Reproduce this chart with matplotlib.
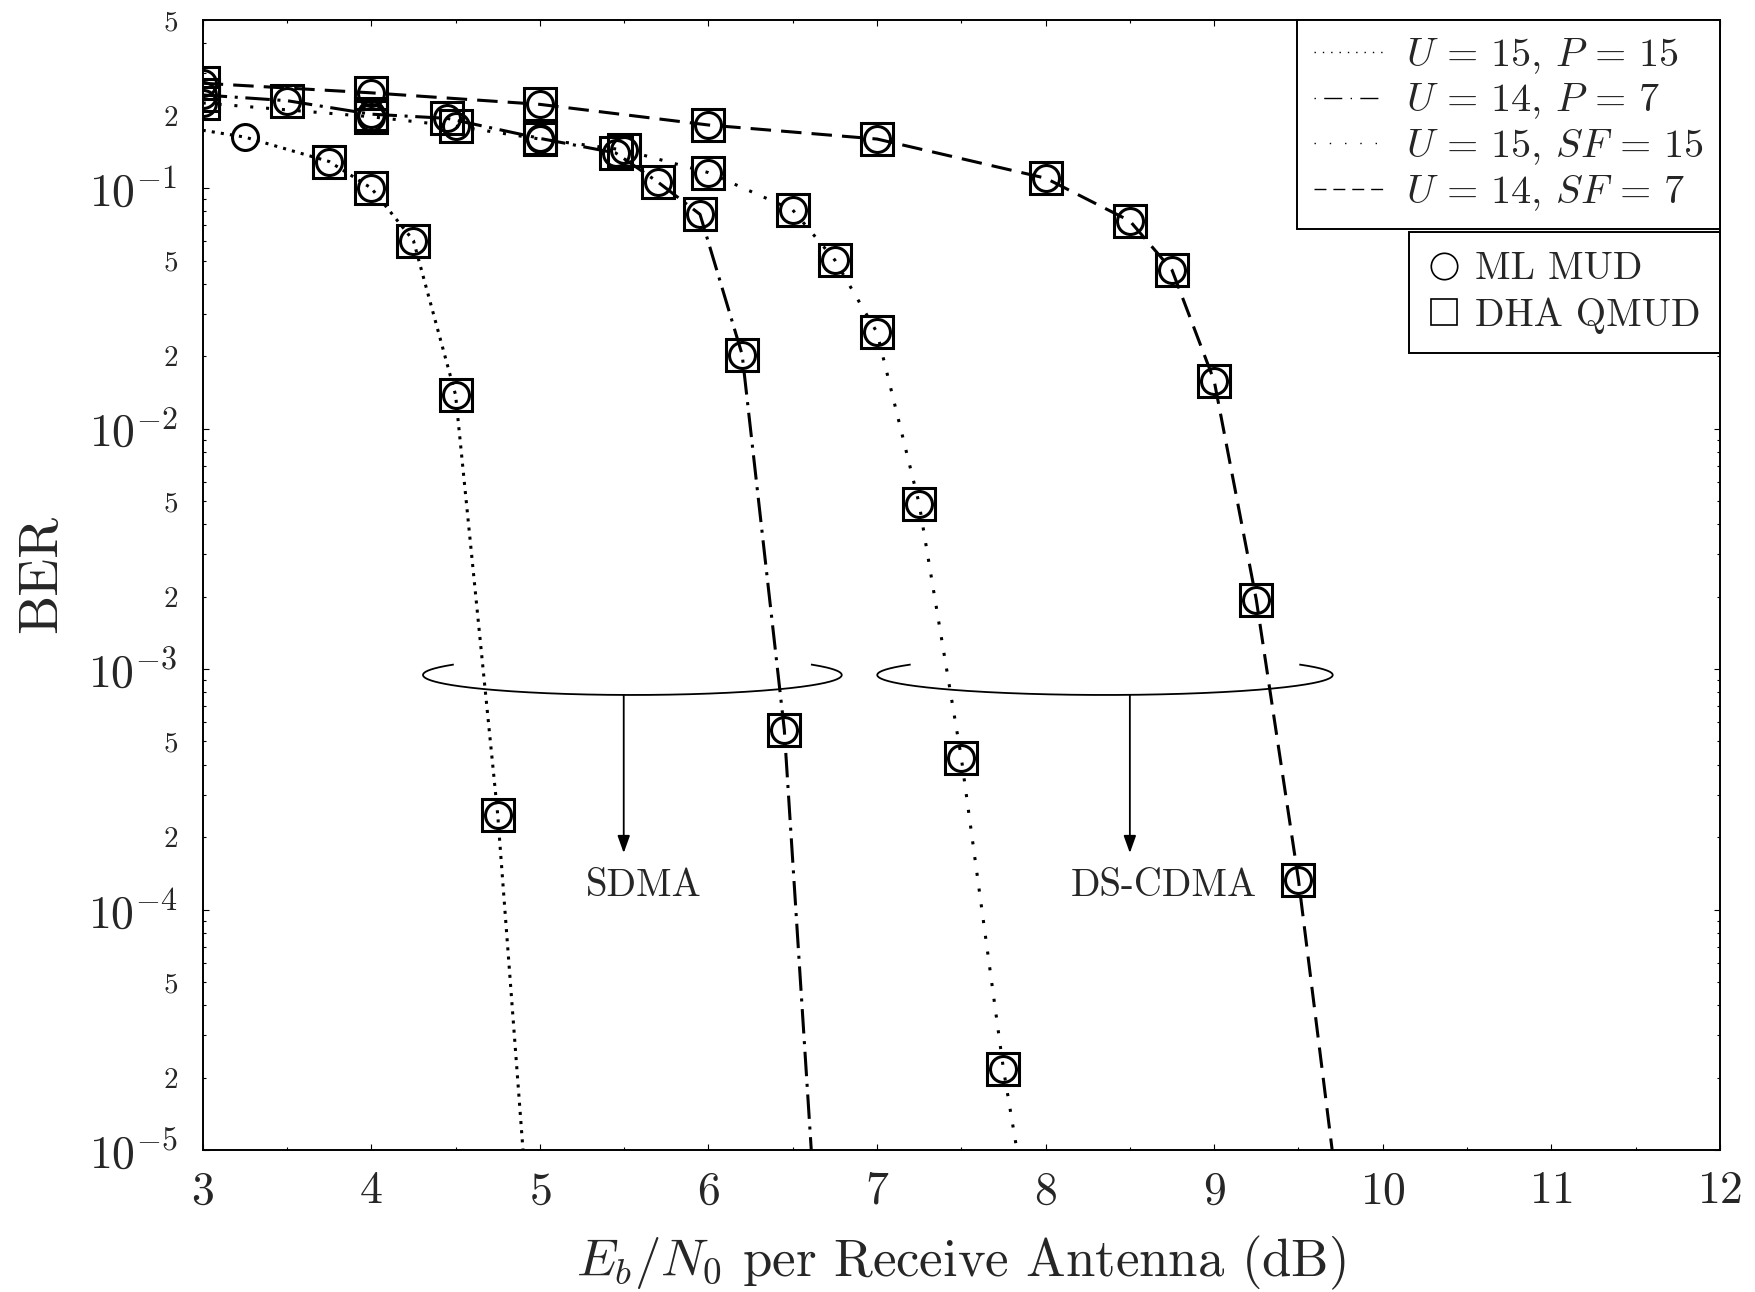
import numpy as np
import matplotlib
matplotlib.use('Agg')
import matplotlib.pyplot as plt
from matplotlib.lines import Line2D

plt.rcParams['font.family'] = 'serif'
plt.rcParams['font.serif'] = ['cmr10']
plt.rcParams['mathtext.fontset'] = 'cm'
plt.rcParams['axes.unicode_minus'] = False
plt.rcParams['axes.formatter.use_mathtext'] = True

# BER versus Eb/N0 (dB) for the four system configurations
snr_sdma_u15 = [3.0, 3.25, 3.75, 4.0, 4.25, 4.5, 4.75, 4.9]
ber_sdma_u15 = [0.174, 0.163, 0.129, 0.100, 0.0605, 0.0138, 2.48e-4, 1.0e-5]
ml_sdma_u15 = [1, 2, 3, 4, 5, 6]
dha_sdma_u15 = [2, 3, 4, 5, 6]

snr_sdma_u14 = [3.0, 3.5, 4.0, 4.45, 5.0, 5.45, 5.7, 5.95, 6.2, 6.45, 6.61]
ber_sdma_u14 = [0.244, 0.231, 0.203, 0.195, 0.161, 0.140, 0.106, 0.0778, 0.0203, 5.6e-4, 1.0e-5]
ml_sdma_u14 = [0, 1, 2, 3, 4, 5, 6, 7, 8, 9]
dha_sdma_u14 = [0, 1, 2, 3, 4, 5, 6, 7, 8, 9]

snr_cdma_u15 = [3.0, 4.0, 4.5, 5.0, 5.5, 6.0, 6.5, 6.75, 7.0, 7.25, 7.5, 7.75, 7.83]
ber_cdma_u15 = [0.226, 0.198, 0.181, 0.160, 0.144, 0.116, 0.0811, 0.0502, 0.0251,
                4.87e-3, 4.28e-4, 2.17e-5, 1.0e-5]
ml_cdma_u15 = [0, 1, 2, 3, 4, 5, 6, 7, 8, 9, 10, 11]
dha_cdma_u15 = [0, 1, 2, 3, 4, 5, 6, 7, 8, 9, 10, 11]

snr_cdma_u14 = [3.0, 4.0, 5.0, 6.0, 7.0, 8.0, 8.5, 8.75, 9.0, 9.25, 9.5, 9.7]
ber_cdma_u14 = [0.273, 0.249, 0.223, 0.183, 0.160, 0.110, 0.0730, 0.0456, 0.0158,
                1.94e-3, 1.33e-4, 1.0e-5]
ml_cdma_u14 = [0, 1, 2, 3, 4, 5, 6, 7, 8, 9, 10]
dha_cdma_u14 = [0, 1, 2, 3, 4, 5, 6, 7, 8, 9, 10]

labels = [r'$U\,=\,15$, $P\,=\,15$', r'$U\,=\,14$, $P\,=\,7$',
          r'$U\,=\,15$, $SF\,=\,15$', r'$U\,=\,14$, $SF\,=\,7$']

# dash patterns (units of line width)
styles = [(0, (1, 2)), (0, (8, 2.5, 1, 2.5)), (0, (1, 4.2)), (0, (6.7, 3.3))]
legend_styles = [(0, (1, 5)), (0, (1, 6, 13, 6)), (0, (1, 10)), (0, (8.6, 5))]

series = [
    (snr_sdma_u15, ber_sdma_u15, ml_sdma_u15, dha_sdma_u15),
    (snr_sdma_u14, ber_sdma_u14, ml_sdma_u14, dha_sdma_u14),
    (snr_cdma_u15, ber_cdma_u15, ml_cdma_u15, dha_cdma_u15),
    (snr_cdma_u14, ber_cdma_u14, ml_cdma_u14, dha_cdma_u14),
]

text_col = '#262626'

fig = plt.figure(figsize=(17.55, 12.92), dpi=100)
ax = fig.add_axes([0.1155, 0.1099, 0.8645, 0.8746])

for (snr, ber, ml, dha), ls in zip(series, styles):
    ax.plot(snr, ber, color='k', lw=2.2, linestyle=ls, dash_capstyle='butt')
    ax.plot(snr, ber, ls='none', marker='o', markevery=ml, ms=18.7, mew=2.2,
            mfc='none', mec='k')
    ax.plot(snr, ber, ls='none', marker='s', markevery=dha, ms=23, mew=2.2,
            mfc='none', mec='k')

ax.set_yscale('log')
ax.set_xlim(3, 12)
ax.set_ylim(1e-5, 0.5)

# axis ticks
ax.set_xticks(np.arange(3, 13, 1))
ax.set_xticks(np.arange(3.5, 12, 1), minor=True)
decades = [1e-5, 1e-4, 1e-3, 1e-2, 1e-1]
ax.set_yticks(decades, labels=[r'$10^{-5}$', r'$10^{-4}$', r'$10^{-3}$',
                               r'$10^{-2}$', r'$10^{-1}$'])
minor_pos, minor_lab = [], []
for d in decades:
    for m in range(2, 10):
        if m * d <= 0.5:
            minor_pos.append(m * d)
            minor_lab.append(str(m) if m in (2, 5) else '')
ax.set_yticks(minor_pos, labels=minor_lab, minor=True)

ax.tick_params(which='both', direction='in', top=True, right=True, width=0.8,
               colors='k', labelcolor=text_col)
ax.tick_params(which='major', length=4)
ax.tick_params(which='minor', length=2.5)
ax.tick_params(axis='x', which='major', labelsize=33, pad=15)
ax.tick_params(axis='y', which='major', labelsize=33, pad=18)
ax.tick_params(axis='y', which='minor', labelsize=21, pad=18)
for sp in ax.spines.values():
    sp.set_linewidth(1.4)

ax.set_xlabel(r'$E_b/N_0$ per Receive Antenna (dB)', fontsize=38, color=text_col,
              va='center')
ax.xaxis.set_label_coords(0.5, -0.100)
ax.set_ylabel('BER', fontsize=40, color=text_col, va='center', ha='center')
ax.yaxis.set_label_coords(-0.106, 0.51)

# ring-and-arrow annotations
t = np.deg2rad(np.linspace(149, 391, 300))
for cx, a, ax_arrow, tx, name in [(0.2832, 0.1380, 0.2775, 0.2905, 'SDMA'),
                                  (0.5947, 0.1501, 0.6111, 0.6336, 'DS-CDMA')]:
    ax.plot(cx + a * np.cos(t), 0.4204 + 0.0177 * np.sin(t), color='k', lw=1.3,
            transform=ax.transAxes, clip_on=False)
    ax.annotate('', xy=(ax_arrow, 0.2628), xytext=(ax_arrow, 0.4027),
                xycoords='axes fraction',
                arrowprops=dict(arrowstyle='-|>,head_length=0.7,head_width=0.25',
                                lw=1.3, color='k', mutation_scale=15,
                                shrinkA=0, shrinkB=0))
    ax.text(tx, 0.2332, name, transform=ax.transAxes, fontsize=28,
            color=text_col, ha='center', va='center')

# legends: line styles and detectors
line_handles = [Line2D([], [], color='k', lw=1.0, linestyle=ls) for ls in legend_styles]
leg1 = ax.legend(line_handles, labels, loc='upper right', bbox_to_anchor=(1, 1),
                 borderaxespad=0, fancybox=False, edgecolor='k', framealpha=1,
                 fontsize=29, handlelength=1.8, handletextpad=0.5,
                 labelspacing=0.15, borderpad=0.4)
leg1.get_frame().set_linewidth(1.4)
for txt in leg1.get_texts():
    txt.set_color(text_col)
ax.add_artist(leg1)

det_handles = [Line2D([], [], ls='none', marker='o', ms=19, mew=1.2, mfc='none', mec='k'),
               Line2D([], [], ls='none', marker='s', ms=19, mew=1.2, mfc='none', mec='k')]
leg2 = ax.legend(det_handles, ['ML MUD', 'DHA QMUD'], loc='upper right',
                 bbox_to_anchor=(1, 0.8124), borderaxespad=0, fancybox=False,
                 edgecolor='k', framealpha=1, fontsize=28, handlelength=0.8,
                 handletextpad=0.4, labelspacing=0.26, borderpad=0.5)
leg2.get_frame().set_linewidth(1.4)
for txt in leg2.get_texts():
    txt.set_color(text_col)

fig.savefig('out.png', dpi=100)
